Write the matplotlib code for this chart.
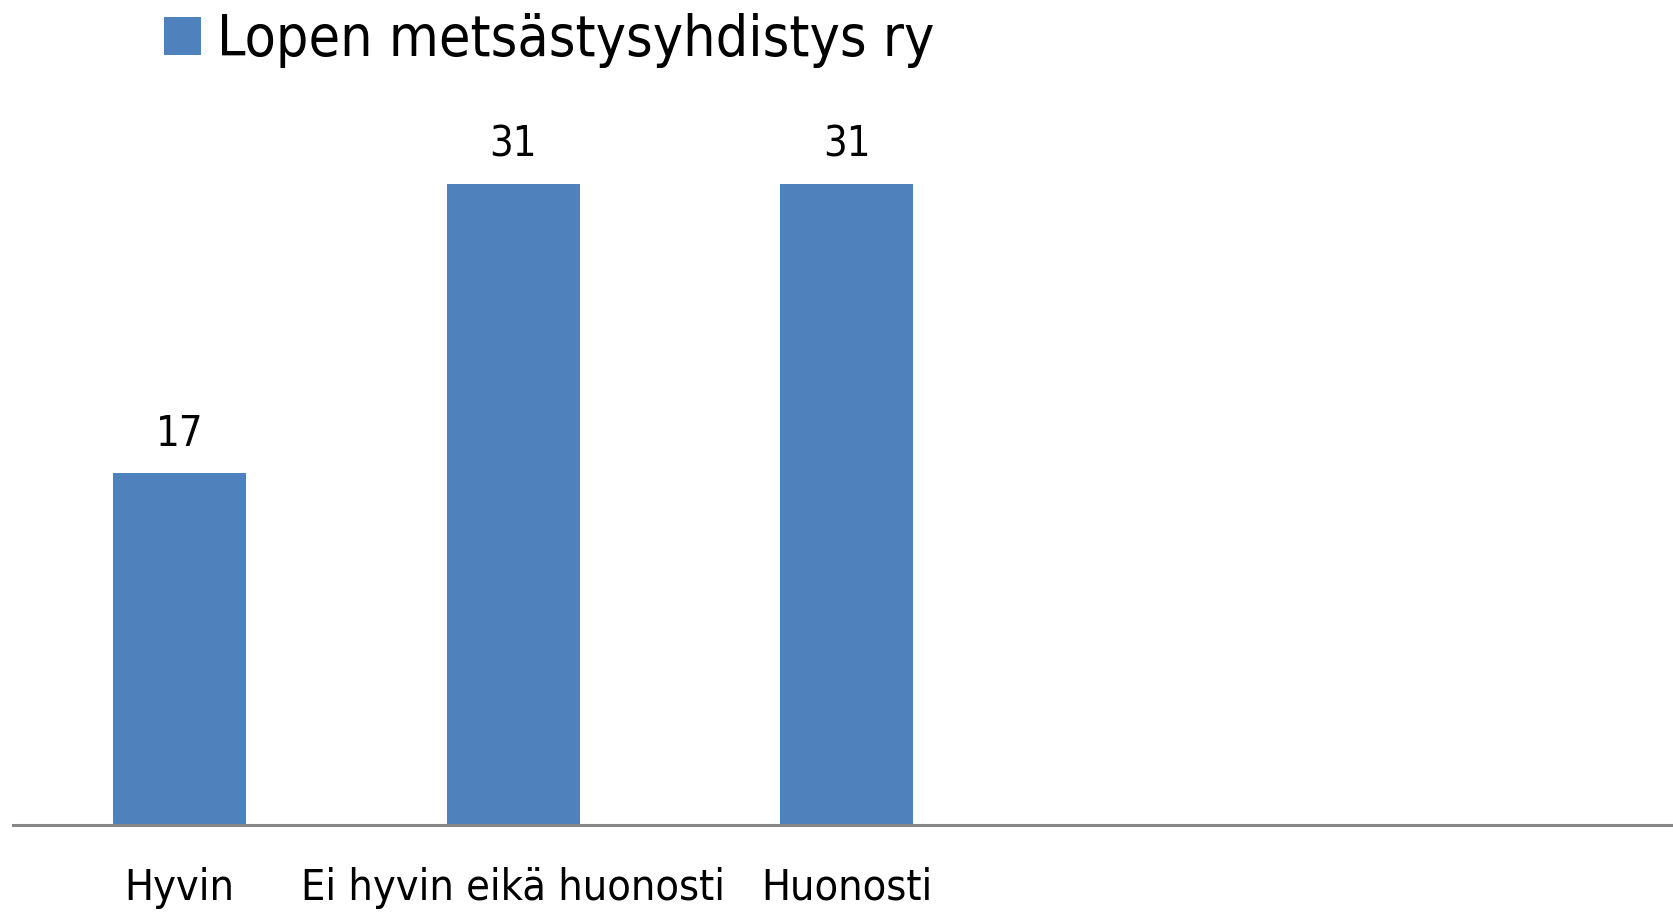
import matplotlib
matplotlib.use("Agg")
import matplotlib.pyplot as plt

categories = ["Hyvin", "Ei hyvin eikä huonosti", "Huonosti", "", ""]
values = [17, 31, 31, None, None]
series_name = "Lopen metsästysyhdistys ry"

plt.rcParams['font.family'] = ['DejaVu Sans']
plt.rcParams['font.stretch'] = 'condensed'

W, H = 1674, 915
fig = plt.figure(figsize=(W/100, H/100), dpi=100)
left = 13 / W
bottom = 1 - 825 / H
top_px = 100
ax = fig.add_axes([left, bottom, 1 - left, (825 - top_px) / H])

color = "#4F81BD"
xs = [i for i, v in enumerate(values) if v is not None]
vs = [v for v in values if v is not None]
bars = ax.bar(xs, vs, width=0.4, color=color, label=series_name)
for x, v in zip(xs, vs):
    ax.annotate(str(v), (x, v), xytext=(0, 13), textcoords="offset points",
                ha="center", va="bottom", fontsize=30, fontstretch='condensed')

slot = 333.5
ax.set_xlim(-0.5, (W - 13) / slot - 0.5)
ax.set_ylim(0, (825 - top_px) / 20.68)
ax.set_xticks(range(len(categories)))
ax.set_xticklabels(categories, fontsize=31, fontstretch='condensed')
ax.tick_params(axis='x', length=0, pad=30)
ax.set_yticks([])
for s in ["top", "right", "left"]:
    ax.spines[s].set_visible(False)
ax.spines["bottom"].set_color("#868686")
ax.spines["bottom"].set_linewidth(2.2)

fig.legend(handles=[bars], labels=[series_name], loc="upper left",
           bbox_to_anchor=(141 / W, 1.011), frameon=False,
           prop={'size': 41, 'stretch': 'condensed'},
           handlelength=0.65, handleheight=0.65, handletextpad=0.28,
           borderaxespad=0.0)

fig.savefig("out.png", dpi=100)
